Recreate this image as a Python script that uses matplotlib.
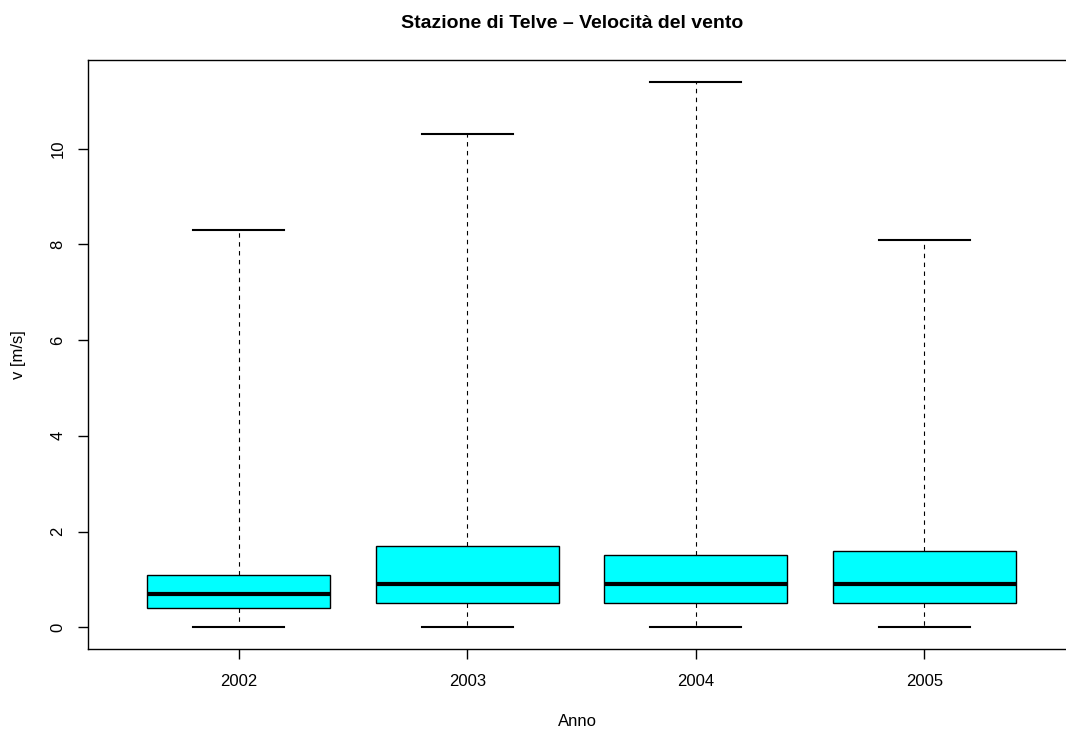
import matplotlib.pyplot as plt
import numpy as np

plt.rcParams['font.family'] = ['Liberation Sans', 'DejaVu Sans']

anni = ['2002', '2003', '2004', '2005']
v_min = [0.0, 0.0, 0.0, 0.0]
v_q1 = [0.4, 0.5, 0.5, 0.5]
v_med = [0.7, 0.9, 0.9, 0.9]
v_q3 = [1.1, 1.7, 1.5, 1.6]
v_max = [8.3, 10.3, 11.4, 8.1]

stats = []
for i in range(len(anni)):
    stats.append(dict(label=anni[i], whislo=v_min[i], q1=v_q1[i], med=v_med[i],
                      q3=v_q3[i], whishi=v_max[i], fliers=[]))

fig = plt.figure(figsize=(10.66, 7.31), dpi=100)
ax = fig.add_axes([88 / 1066, 82 / 731, (1075 - 88) / 1066, (649 - 60) / 731])

ax.bxp(stats, positions=np.arange(1, 5), widths=0.8, capwidths=0.4,
       patch_artist=True, showfliers=False,
       boxprops=dict(facecolor='#00ffff', edgecolor='black', linewidth=1),
       medianprops=dict(color='black', linewidth=3, solid_capstyle='butt'),
       whiskerprops=dict(color='black', linewidth=0.8, linestyle=(0, (4, 4))),
       capprops=dict(color='black', linewidth=1.5))

ax.set_xlim(0.34, 4.66)
ax.set_ylim(-0.456, 11.856)
ax.set_yticks([0, 2, 4, 6, 8, 10])
ax.set_yticklabels(['0', '2', '4', '6', '8', '10'], rotation=90, va='center')
ax.set_xticks(np.arange(1, 5))
ax.set_xticklabels(anni)
ax.tick_params(direction='out', length=7.2, width=1, labelsize=12)
ax.tick_params(axis='x', pad=11)
ax.tick_params(axis='y', pad=9)
ax.spines['right'].set_visible(False)
for s in ax.spines.values():
    s.set_linewidth(1)

ax.set_xlabel('Anno', fontsize=12, va='center')
ax.xaxis.set_label_coords(0.5 * (1066 - 88) / 987, -(722 - 649) / 589)
ax.set_ylabel('v [m/s]', fontsize=12, va='center')
ax.yaxis.set_label_coords(-(88 - 19) / 987, 0.5)
fig.text(0.5 * (1 + 88 / 1066 - 9 / 1066), 1 - 23 / 731, 'Stazione di Telve \u2013 Velocit\u00e0 del vento',
         ha='center', va='center', fontsize=14, fontweight='bold')

fig.savefig('out.png', dpi=100)
